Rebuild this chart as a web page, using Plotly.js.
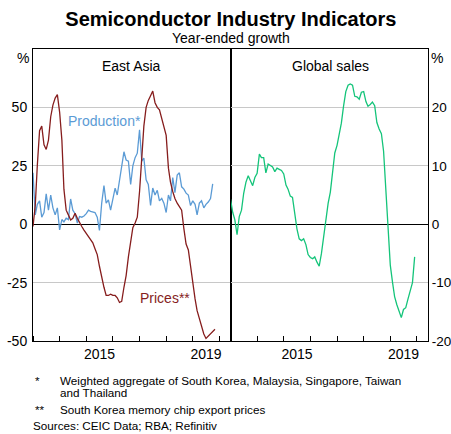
<!DOCTYPE html>
<html>
<head>
<meta charset="utf-8">
<script src="https://cdn.plot.ly/plotly-3.0.1.min.js"></script>
<style>
  html, body { margin: 0; padding: 0; background: #fff; }
  #chart { width: 451px; height: 434px; }
</style>
</head>
<body>
<div id="chart"></div>
<script>
// ---- Data ----
const startYear = 2013;
const startMonth = 1;

// East Asia production, year-ended growth (%), monthly from Jan 2013
const productionValues = [
  22, 4, 8.5, 10, 3, 5, 13, 6, 12.5, 7, 4, 7,
  -2.4, 2, 1, 2.6, 2, 10.8, 6, 4.5, 0.5, 3.3, 3, 3.5,
  4.5, 6, 5.5, 5.4, 5, 3, -2.7, 9, 16.5, 9, 10.4, 6,
  11, 15.4, 12.5, 19.5, 24, 31, 27.5, 27, 17, 25, 28.5, 30.4,
  40.4, 27, 28.3, 19, 17, 8, 15.5, 12.5, 14.5, 10, 11, 9,
  5, 12.5, 10, 20, 13.5, 21, 22, 16, 15, 13.3, 12.5, 8,
  10, 8.5, 4, 9, 10, 7, 8.5, 9.5, 11, 17.3
];

// South Korea memory chip export prices, year-ended growth (%), monthly from Jan 2013
const pricesValues = [
  -1, 8, 25, 40, 42, 34, 32, 36, 46, 51, 54, 55.5,
  48, 36, 15, 6, 4, 1.8, 2.5, 4.7, 2.5, 0.5, -1, -2.5,
  -4, -5.5, -6.5, -8, -10.5, -13, -18, -23, -27, -30.5, -30.5, -30,
  -30.5, -30.5, -31.5, -33.5, -33, -27, -22, -14, -7, -1.5, 0.5, 3,
  14, 28, 42, 50, 53, 55, 57, 52, 50, 49, 45, 41,
  38, 24, 18, 14, 11, 9, 7.5, 6, -2, -8.5, -11, -18,
  -26, -32, -37, -40.5, -43.5, -47, -48.9, -47.8, -46.8, -45.8, -45
];

// Global semiconductor sales, year-ended growth (%), monthly from Jan 2013
const globalSalesValues = [
  4.3, 2, 0.8, -1.8, 1.3, 2.4, 5.3, 7.2, 8.3, 7.3, 6.6, 8,
  8.7, 12, 11.4, 11.4, 8.8, 10.3, 10.1, 9.8, 9, 9.6, 9.4, 9.2,
  8.6, 6.7, 6, 4.8, 4.6, 2, -0.8, -2.5, -2.8, -2.5, -3.5, -5.2,
  -5.7, -5.9, -5.6, -6.5, -7.2, -5, -2, 1.3, 3.6, 5.5, 8.5, 12.2,
  13.5, 15.2, 17.3, 20.3, 22.7, 23.8, 24, 23.8, 21.9, 21.8, 21.4, 22.6,
  22.7, 21, 20.2, 20.5, 20.9, 20.3, 17.4, 16.3, 15.5, 12.5, 6, -0.5,
  -7, -10, -12.4, -13.8, -15, -16, -14.6, -14.3, -12.8, -11.5, -10, -5.6
];

const panelTitles = ['East Asia', 'Global sales'];
const leftTickVals = [-50, -25, 0, 25, 50];
const leftTickText = ['-50', '-25', '0', '25', '50'];
const rightTickVals = [-20, -10, 0, 10, 20];
const rightTickText = ['-20', '-10', '0', '10', '20'];
const yearLabelVals = ['2015-07-02', '2019-07-02'];
const yearLabelText = ['2015', '2019'];
const xRange = ['2013-01-01', '2020-06-01'];

// ---- Helpers ----
function monthDates(y0, m0, n) {
  const out = [];
  for (let i = 0; i < n; i++) {
    const t = (m0 - 1) + i;
    const y = y0 + Math.floor(t / 12);
    const m = (t % 12) + 1;
    out.push(y + '-' + String(m).padStart(2, '0') + '-01');
  }
  return out;
}

const FONT = 'Arial, "Liberation Sans", Helvetica, sans-serif';
const BLUE = '#5b9bd5';
const RED = '#861d1d';
const GREEN = '#14c47a';
const GRID = '#c8c8c8';

const traces = [
  { x: monthDates(startYear, startMonth, productionValues.length), y: productionValues,
    type: 'scatter', mode: 'lines', line: { color: BLUE, width: 1.3 }, xaxis: 'x', yaxis: 'y',
    name: 'Production*', hoverinfo: 'skip' },
  { x: monthDates(startYear, startMonth, pricesValues.length), y: pricesValues,
    type: 'scatter', mode: 'lines', line: { color: RED, width: 1.3 }, xaxis: 'x', yaxis: 'y',
    name: 'Prices**', hoverinfo: 'skip' },
  { x: monthDates(startYear, startMonth, globalSalesValues.length), y: globalSalesValues,
    type: 'scatter', mode: 'lines', line: { color: GREEN, width: 1.3 }, xaxis: 'x2', yaxis: 'y2',
    name: 'Global sales', hoverinfo: 'skip' }
];

function xAxis(domain, anchor) {
  return {
    domain: domain, anchor: anchor, type: 'date', range: xRange,
    tickmode: 'array', tickvals: yearLabelVals, ticktext: yearLabelText,
    ticks: '', showgrid: false, zeroline: false,
    showline: true, linecolor: '#000', linewidth: 1, mirror: true,
    tickfont: { family: FONT, size: 14, color: '#000' },
    minor: { tickmode: 'linear', tick0: '2013-01-01', dtick: 'M12', ticks: 'inside',
             ticklen: 5, tickwidth: 1, tickcolor: '#000', showgrid: false },
    fixedrange: true
  };
}

const layout = {
  width: 451, height: 434,
  margin: { l: 33, r: 23, t: 49, b: 93, pad: 0 },
  paper_bgcolor: '#fff', plot_bgcolor: '#fff',
  showlegend: false,
  font: { family: FONT, color: '#000' },
  title: { text: '<b>Semiconductor Industry Indicators</b>', x: 0.512, xanchor: 'center',
           y: 0.957, yanchor: 'middle', yref: 'container',
           font: { family: FONT, size: 20, color: '#000' } },
  xaxis: xAxis([0, 0.5], 'y'),
  xaxis2: xAxis([0.5, 1], 'y2'),
  yaxis: {
    domain: [0, 1], anchor: 'x', range: [-50, 75],
    tickmode: 'array', tickvals: leftTickVals, ticktext: leftTickText,
    ticks: '', showgrid: true, gridcolor: GRID, gridwidth: 1,
    zeroline: true, zerolinecolor: '#000', zerolinewidth: 1,
    showline: true, linecolor: '#000', linewidth: 1, mirror: true,
    tickfont: { family: FONT, size: 14, color: '#000' }, ticklabelstandoff: 2,
    fixedrange: true
  },
  yaxis2: {
    domain: [0, 1], anchor: 'x2', side: 'right', range: [-20, 30],
    tickmode: 'array', tickvals: rightTickVals, ticktext: rightTickText,
    ticks: '', showgrid: true, gridcolor: GRID, gridwidth: 1,
    zeroline: true, zerolinecolor: '#000', zerolinewidth: 1,
    showline: true, linecolor: '#000', linewidth: 1, mirror: true,
    tickfont: { family: FONT, size: 13.5, color: '#000' }, ticklabelstandoff: 0,
    fixedrange: true
  },
  annotations: [
    { text: 'Year-ended growth', xref: 'paper', yref: 'paper', x: 0.5, y: 1.0377,
      xanchor: 'center', yanchor: 'middle', showarrow: false,
      font: { family: FONT, size: 14, color: '#000' } },
    { text: '%', xref: 'paper', yref: 'paper', x: -0.026, y: 0.97,
      xanchor: 'center', yanchor: 'middle', showarrow: false,
      font: { family: FONT, size: 14, color: '#000' } },
    { text: '%', xref: 'paper', yref: 'paper', x: 1.024, y: 0.97,
      xanchor: 'center', yanchor: 'middle', showarrow: false,
      font: { family: FONT, size: 14, color: '#000' } },
    { text: panelTitles[0], xref: 'paper', yref: 'paper', x: 0.25, y: 0.943,
      xanchor: 'center', yanchor: 'middle', showarrow: false,
      font: { family: FONT, size: 14, color: '#000' } },
    { text: panelTitles[1], xref: 'paper', yref: 'paper', x: 0.752, y: 0.943,
      xanchor: 'center', yanchor: 'middle', showarrow: false,
      font: { family: FONT, size: 14, color: '#000' } },
    { text: 'Production*', xref: 'paper', yref: 'paper', x: 0.182, y: 0.752,
      xanchor: 'center', yanchor: 'middle', showarrow: false,
      font: { family: FONT, size: 14, color: BLUE } },
    { text: 'Prices**', xref: 'paper', yref: 'paper', x: 0.333, y: 0.148,
      xanchor: 'center', yanchor: 'middle', showarrow: false,
      font: { family: FONT, size: 14, color: RED } },
    { text: '*', xref: 'paper', yref: 'paper', x: 0.0, y: -0.1336,
      xanchor: 'left', yanchor: 'middle', showarrow: false,
      font: { family: FONT, size: 11.7, color: '#000' } },
    { text: 'Weighted aggregate of South Korea, Malaysia, Singapore, Taiwan', xref: 'paper', yref: 'paper',
      x: 0.064, y: -0.1336, xanchor: 'left', yanchor: 'middle', showarrow: false,
      font: { family: FONT, size: 11.7, color: '#000' } },
    { text: 'and Thailand', xref: 'paper', yref: 'paper',
      x: 0.064, y: -0.1775, xanchor: 'left', yanchor: 'middle', showarrow: false,
      font: { family: FONT, size: 11.7, color: '#000' } },
    { text: '**', xref: 'paper', yref: 'paper', x: 0.0, y: -0.2363,
      xanchor: 'left', yanchor: 'middle', showarrow: false,
      font: { family: FONT, size: 11.7, color: '#000' } },
    { text: 'South Korea memory chip export prices', xref: 'paper', yref: 'paper',
      x: 0.064, y: -0.2363, xanchor: 'left', yanchor: 'middle', showarrow: false,
      font: { family: FONT, size: 11.7, color: '#000' } },
    { text: 'Sources: CEIC Data; RBA; Refinitiv', xref: 'paper', yref: 'paper',
      x: -0.004, y: -0.291, xanchor: 'left', yanchor: 'middle', showarrow: false,
      font: { family: FONT, size: 11.7, color: '#000' } }
  ]
};

Plotly.newPlot('chart', traces, layout, { staticPlot: true, displayModeBar: false });
</script>
</body>
</html>
